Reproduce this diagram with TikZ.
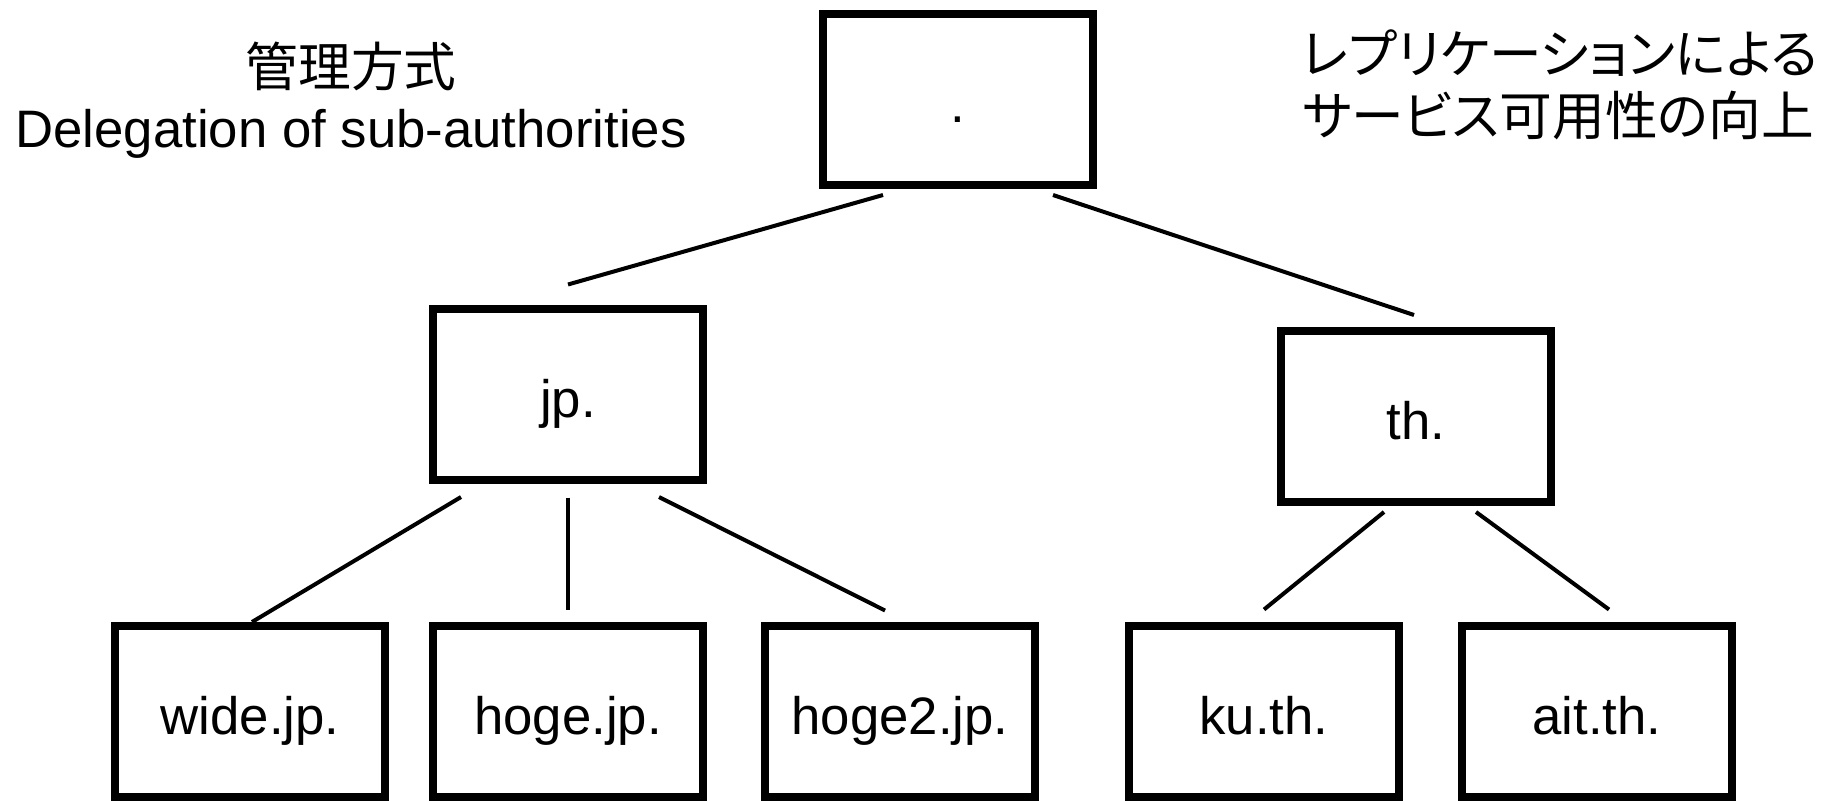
\documentclass[tikz,border=0pt]{standalone}
\usepackage{fontspec}
\setmainfont{Liberation Sans}
\newfontfamily\jafont{Noto Sans CJK JP}
\newfontfamily\jakana[RawFeature=+palt]{Noto Sans CJK JP}
\usepackage{tikz}

\begin{document}
\begin{tikzpicture}[x=0.2mm, y=-0.2mm,
    every node/.style={font=\fontsize{30}{35}\selectfont},
    box/.style={draw, line width=1.6mm, minimum width=54mm, minimum height=34.2mm,
      text height=9.2mm, text depth=0pt},
    link/.style={line width=0.8mm}]
    \useasboundingbox (0,0) rectangle (1830,800);
    % zones
    \node [box] (root) at (958,99) {.};
    \node [box] (jp) at (568,394) {jp.};
    \node [box] (th) at (1416,416) {th.};
    \node [box] (wide) at (250,711) {wide.jp.};
    \node [box] (hoge) at (568,711) {hoge.jp.};
    \node [box] (hogeb) at (900,711) {hoge2.jp.};
    \node [box] (ku) at (1264,711) {ku.th.};
    \node [box] (ait) at (1597,711) {ait.th.};
    % captions
    \node [align=center] (mgmt) at (351,100) {{\jafont 管理方式}\\Delegation of sub-authorities};
    \node [align=left, anchor=west] (repl) at (1296,85) {\jakana レプリケーションによる\\\jakana サービス可用性の向上};
    % delegation lines
    \draw [link] ([shift={(-75,6.5)}]root.south) -- ([shift={(0,-20)}]jp.north);
    \draw [link] ([shift={(95,6.5)}]root.south) -- ([shift={(-2,-11.5)}]th.north);
    \draw [link] ([shift={(-107,13.5)}]jp.south) -- ([shift={(2,0.5)}]wide.north);
    \draw [link] ([shift={(0,14)}]jp.south) -- ([shift={(0,-12)}]hoge.north);
    \draw [link] ([shift={(91,13.5)}]jp.south) -- ([shift={(-15,-11)}]hogeb.north);
    \draw [link] ([shift={(-32,6.5)}]th.south) -- ([shift={(0,-12)}]ku.north);
    \draw [link] ([shift={(60,6.5)}]th.south) -- ([shift={(12,-12)}]ait.north);
\end{tikzpicture}
\end{document}
